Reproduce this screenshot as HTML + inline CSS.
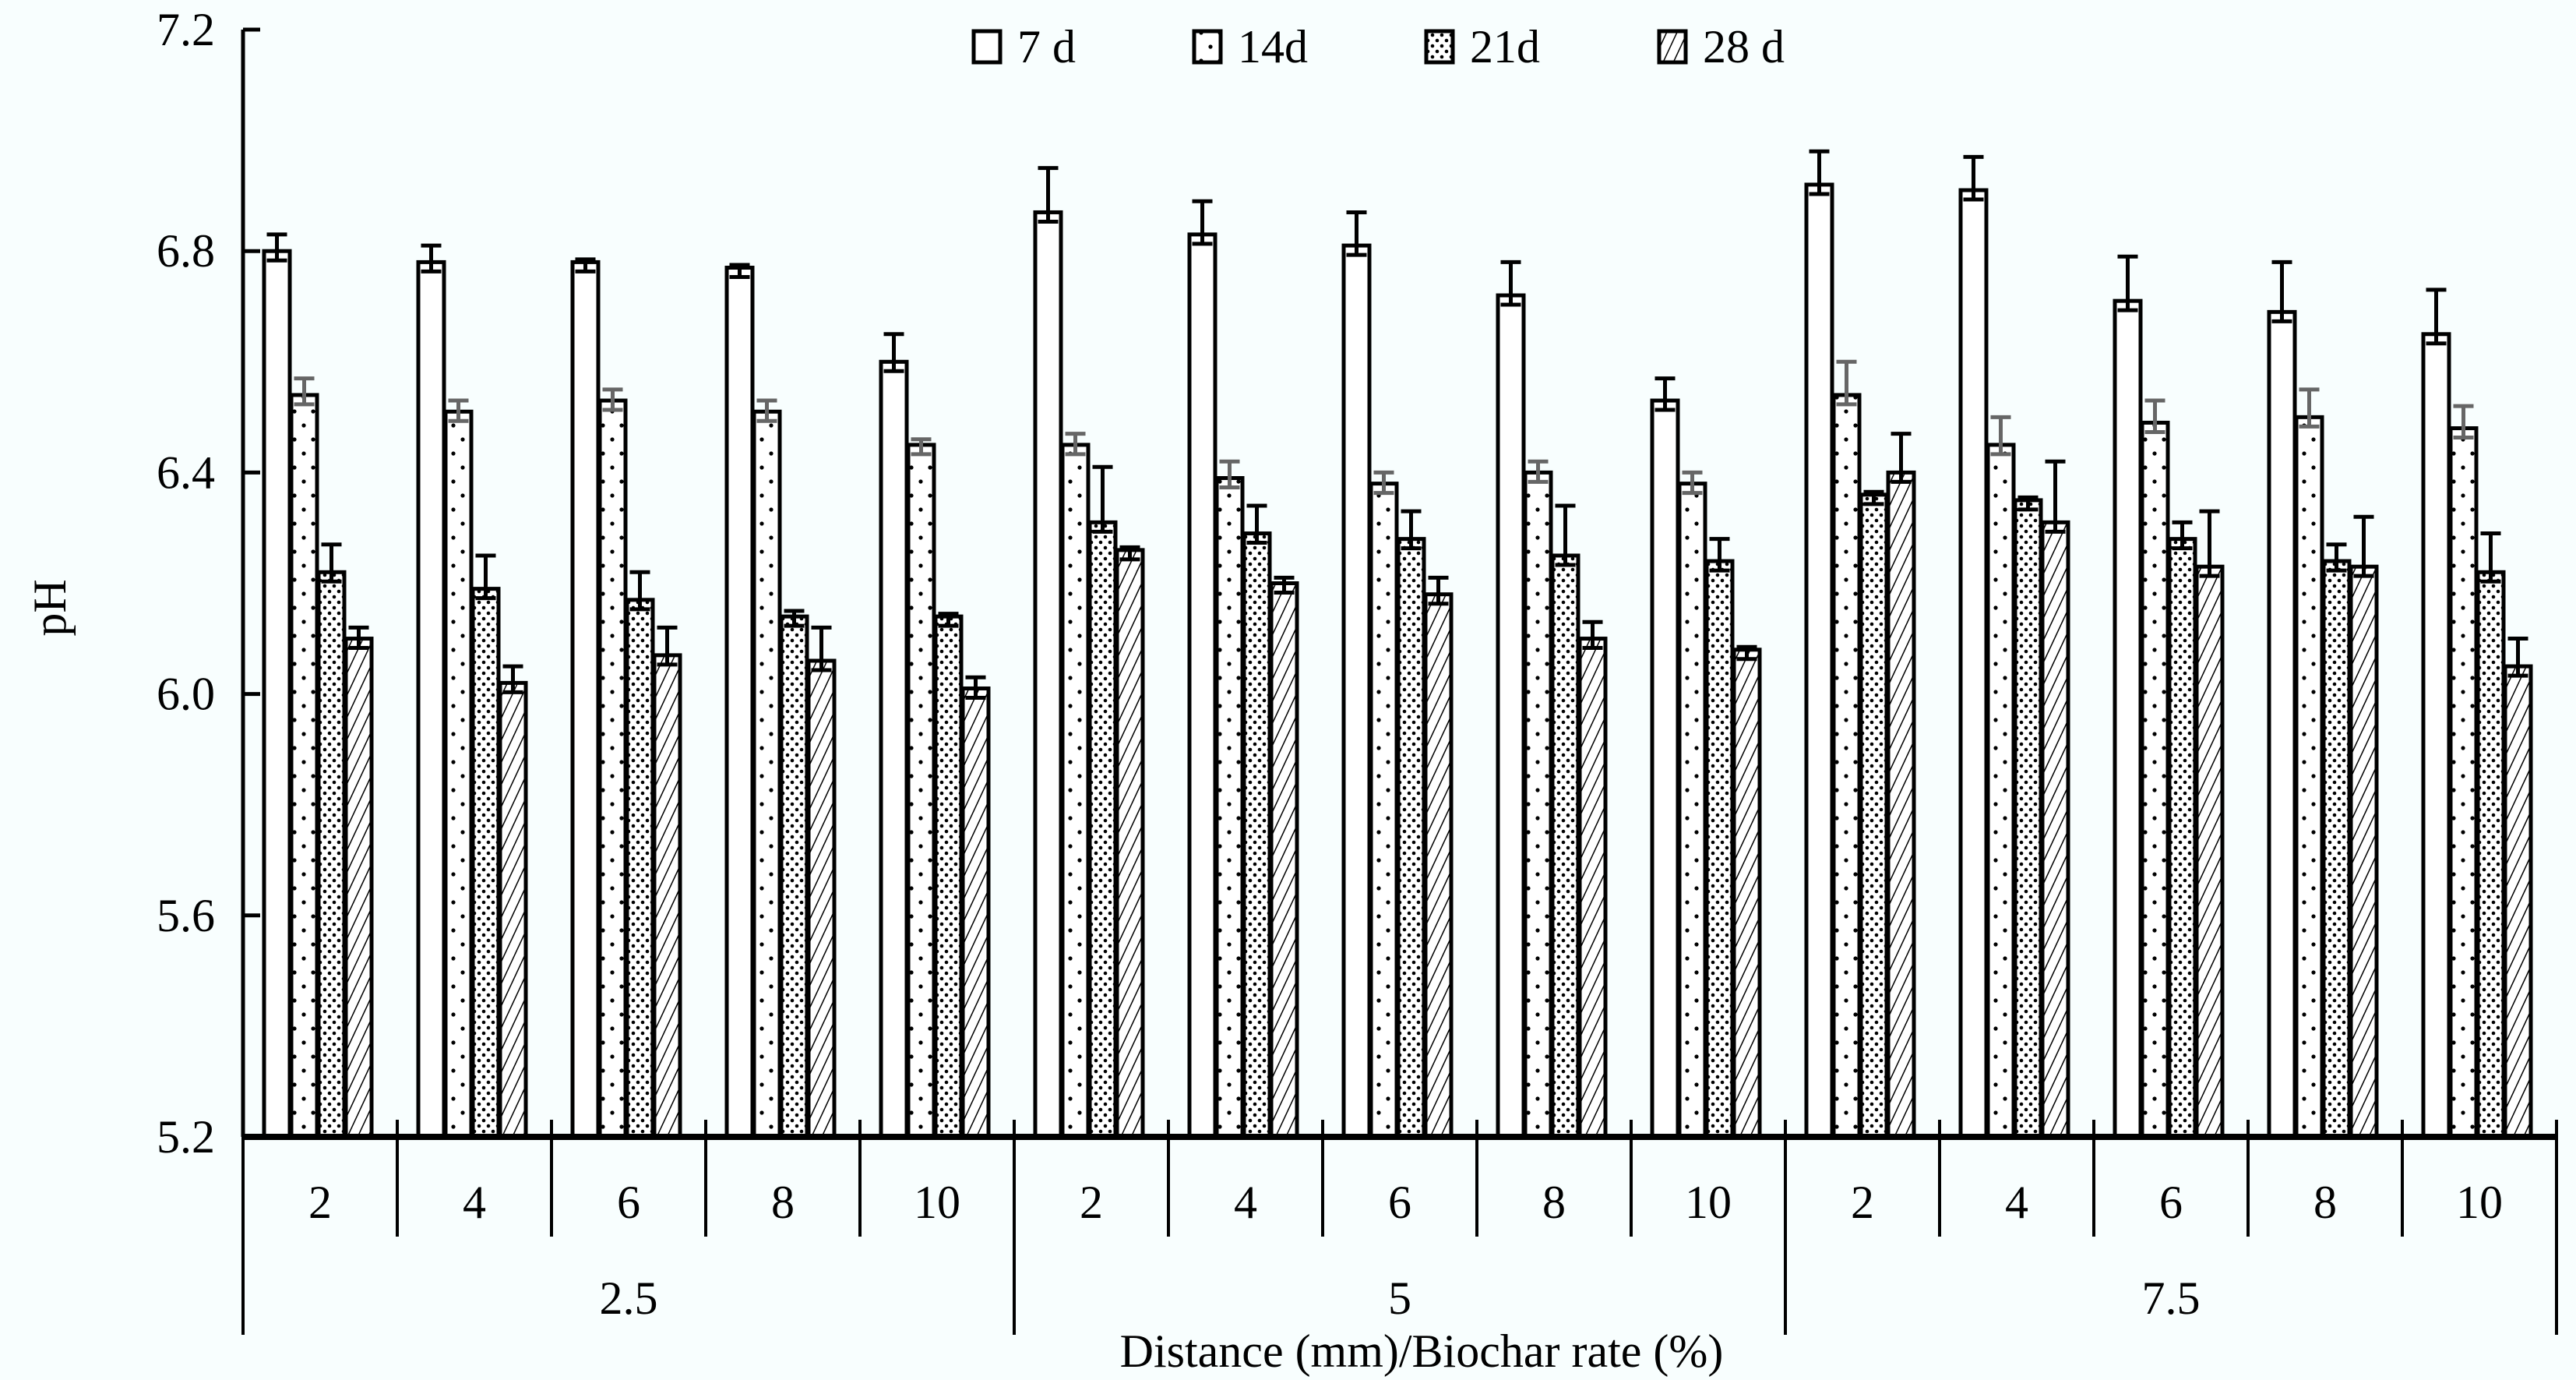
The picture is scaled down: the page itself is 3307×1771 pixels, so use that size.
<!DOCTYPE html>
<html><head><meta charset="utf-8"><style>
html,body{margin:0;padding:0;background:#f8fefe;}
svg{display:block;font-family:"Liberation Serif",serif;}
</style></head><body>
<svg id="chart" width="3307" height="1771" viewBox="0 0 3307 1771" xmlns="http://www.w3.org/2000/svg">
<defs>
<pattern id="p14" width="24" height="36" patternUnits="userSpaceOnUse"><rect width="24" height="36" fill="#fff"/><circle cx="6" cy="6" r="2.6" fill="#000"/><circle cx="18" cy="24" r="2.6" fill="#000"/></pattern>
<pattern id="p21" width="12" height="14" patternUnits="userSpaceOnUse"><rect width="12" height="14" fill="#fff"/><circle cx="3" cy="3" r="2.3" fill="#000"/><circle cx="9" cy="10" r="2.3" fill="#000"/></pattern>
<pattern id="p28" width="12" height="12" patternUnits="userSpaceOnUse" patternTransform="rotate(25)"><rect width="12" height="12" fill="#fff"/><line x1="0" y1="0" x2="0" y2="12" stroke="#000" stroke-width="3"/></pattern>
</defs>
<g id="bars"></g>
<g id="axes"></g>
<g id="legend"></g>
</svg>
<script>
const groups = ["2.5","5","7.5"];
const rates = ["2","4","6","8","10"];
const seriesNames = ["7 d","14d","21d","28 d"];
const yTicks = [5.2,5.6,6.0,6.4,6.8,7.2];
const d7  = [6.80,6.78,6.78,6.77,6.60, 6.87,6.83,6.81,6.72,6.53, 6.92,6.91,6.71,6.69,6.65];
const e7  = [0.03,0.03,0.005,0.005,0.05, 0.08,0.06,0.06,0.06,0.04, 0.06,0.06,0.08,0.09,0.08];
const d14 = [6.54,6.51,6.53,6.51,6.45, 6.45,6.39,6.38,6.40,6.38, 6.54,6.45,6.49,6.50,6.48];
const e14 = [0.03,0.02,0.02,0.02,0.01, 0.02,0.03,0.02,0.02,0.02, 0.06,0.05,0.04,0.05,0.04];
const d21 = [6.22,6.19,6.17,6.14,6.14, 6.31,6.29,6.28,6.25,6.24, 6.36,6.35,6.28,6.24,6.22];
const e21 = [0.05,0.06,0.05,0.01,0.005, 0.10,0.05,0.05,0.09,0.04, 0.005,0.005,0.03,0.03,0.07];
const d28 = [6.10,6.02,6.07,6.06,6.01, 6.26,6.20,6.18,6.10,6.08, 6.40,6.31,6.23,6.23,6.05];
const e28 = [0.02,0.03,0.05,0.06,0.02, 0.005,0.01,0.03,0.03,0.005, 0.07,0.11,0.10,0.09,0.05];

const NS="http://www.w3.org/2000/svg";
const X0=312, X1=3282, YT=38, YB=1459, VMIN=5.2, VMAX=7.2;
const catW=(X1-X0)/15;
const FS=60;
function y(v){return YB-(v-VMIN)/(VMAX-VMIN)*(YB-YT);}
function cx(i){return X0+i*catW;}
function mk(tag,attrs,parent){const e=document.createElementNS(NS,tag);for(const k in attrs)e.setAttribute(k,attrs[k]);parent.appendChild(e);return e;}
const bars=document.getElementById('bars'), axes=document.getElementById('axes'), legend=document.getElementById('legend');
const data=[d7,d14,d21,d28], errs=[e7,e14,e21,e28];
const fills=["#fff","url(#p14)","url(#p21)","url(#p28)"];
const errCol=["#000","#666","#000","#000"];
const bw=33, off=27, gap=2;
for(let i=0;i<15;i++){
  for(let s=0;s<4;s++){
    const v=data[s][i], e=errs[s][i];
    const bx=cx(i)+off+s*(bw+gap);
    const r=mk('rect',{x:bx,y:y(v),width:bw,height:YB-y(v),fill:fills[s],stroke:'#000','stroke-width':5},bars);
    
    
    const m=bx+bw/2;
    const eb=mk('path',{d:`M${m},${y(v)+12}V${y(v+e)}M${m-13},${y(v+e)}H${m+13}M${m-13},${y(v)+12}H${m+13}`,stroke:errCol[s],'stroke-width':5,fill:'none'},bars);
    
    
  }
}
const ya=mk('line',{x1:X0,y1:YT,x2:X0,y2:YB,stroke:'#000','stroke-width':5},axes);


yTicks.forEach(t=>{
  const tk=mk('line',{x1:X0,y1:y(t),x2:X0+22,y2:y(t),stroke:'#000','stroke-width':5},axes);
  
  
  const tl=mk('text',{x:X0-36,y:y(t)+20,'text-anchor':'end','font-size':FS},axes);
  tl.textContent=t.toFixed(1);
  
  
});
const yt=mk('text',{x:0,y:0,transform:'translate(84,780) rotate(-90)','text-anchor':'middle','font-size':FS},axes);
yt.textContent='pH';


const xa=mk('line',{x1:X0,y1:YB,x2:X1,y2:YB,stroke:'#000','stroke-width':8},axes);


for(let i=0;i<=15;i++){
  const major=(i%5===0);
  const ln=mk('line',{x1:cx(i),y1:YB-22,x2:cx(i),y2:major?1713:1587,stroke:'#000','stroke-width':4},axes);
  
  
}
for(let i=0;i<15;i++){
  const tl=mk('text',{x:cx(i)+catW/2,y:1563,'text-anchor':'middle','font-size':FS},axes);
  tl.textContent=rates[i%5];
  
  
}
groups.forEach((g,k)=>{
  const gl=mk('text',{x:cx(k*5)+catW*2.5,y:1686,'text-anchor':'middle','font-size':FS},axes);
  gl.textContent=g;
  
  
});
const xt=mk('text',{x:1825,y:1754,'text-anchor':'middle','font-size':FS},axes);
xt.textContent='Distance (mm)/Biochar rate (%)';


const lx=[1250,1533,1831,2130];
seriesNames.forEach((n,s)=>{
  const b=mk('rect',{x:lx[s],y:40,width:34,height:40,fill:fills[s],stroke:'#000','stroke-width':5},legend);
  
  
  const t=mk('text',{x:lx[s]+56,y:80,'font-size':FS},legend);
  t.textContent=n;
  
  
});
</script>
</body></html>
